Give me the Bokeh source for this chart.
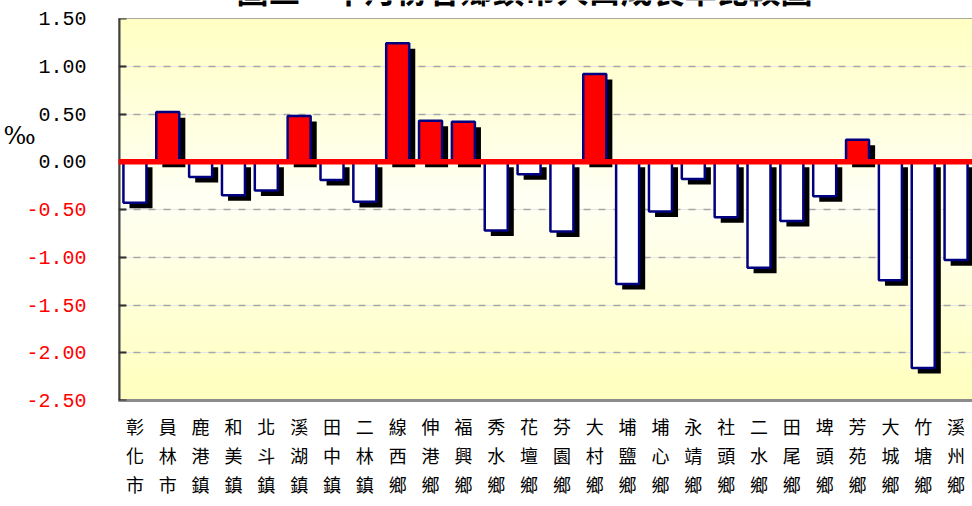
import numpy as np
from bokeh.plotting import figure
from bokeh.layouts import row, column
from bokeh.models import (FactorRange, Range1d, FixedTicker, ColumnDataSource, Span, Grid,
                          CategoricalAxis, LinearAxis, CustomJSTickFormatter)
from bokeh.core.properties import value
from bokeh.transform import dodge
from bokeh.embed import file_html
from bokeh.resources import INLINE

TITLE = "圖三　十月份各鄉鎮市人口成長率比較圖"
UNIT = "‰"

towns = ["彰化市", "員林市", "鹿港鎮", "和美鎮", "北斗鎮", "溪湖鎮", "田中鎮", "二林鎮",
         "線西鄉", "伸港鄉", "福興鄉", "秀水鄉", "花壇鄉", "芬園鄉", "大村鄉", "埔鹽鄉",
         "埔心鄉", "永靖鄉", "社頭鄉", "二水鄉", "田尾鄉", "埤頭鄉", "芳苑鄉", "大城鄉",
         "竹塘鄉", "溪州鄉"]
rates = [-0.43, 0.52, -0.16, -0.35, -0.30, 0.48, -0.19, -0.42,
         1.24, 0.43, 0.42, -0.72, -0.13, -0.73, 0.92, -1.28,
         -0.52, -0.18, -0.58, -1.11, -0.62, -0.36, 0.23, -1.24,
         -2.16, -1.03]
y_ticks = [1.5, 1.0, 0.5, 0.0, -0.5, -1.0, -1.5, -2.0, -2.5]
y_tick_labels = ["1.50", "1.00", "0.50", "0.00", "-0.50", "-1.00", "-1.50", "-2.00", "-2.50"]

Y_MIN, Y_MAX = -2.5, 1.5
SHADOW_DX = 0.185   # category units
SHADOW_DY = 0.058   # value units
UNIT_Y = 0.27       # where the unit sign sits beside the axis

# page layout (pixels)
W, H = 972, 506
LEFT, TOP, BOTTOM = 118, 18, 106
PLOT_W = W - LEFT
FRAME_H = H - TOP - BOTTOM
PX = (Y_MAX - Y_MIN) / FRAME_H   # value per pixel

# ---------------- main chart ----------------
p = figure(width=PLOT_W, height=H - TOP,
           x_range=FactorRange(factors=towns),
           y_range=Range1d(Y_MIN, Y_MAX),
           y_axis_location=None,
           output_backend="svg", toolbar_location=None,
           min_border_left=0, min_border_right=0, min_border_top=0, min_border_bottom=BOTTOM)
p.background_fill_color = "white"
p.border_fill_color = "white"
p.outline_line_color = "#8C8C8C"
p.outline_line_width = 2

# background gradient of the plot area
ys = np.linspace(Y_MIN, Y_MAX, 200)
blue = np.interp(ys, [Y_MIN, -0.4, Y_MAX], [190, 245, 196]).astype(np.uint8)
img = np.empty((len(ys), 1), dtype=np.uint32)
view = img.view(dtype=np.uint8).reshape((len(ys), 1, 4))
view[:, 0, 0] = 255
view[:, 0, 1] = 255
view[:, 0, 2] = blue
view[:, 0, 3] = 255
p.image_rgba(image=[img], x=0, y=Y_MIN, dw=len(towns), dh=Y_MAX - Y_MIN, level="image")

src = ColumnDataSource(dict(
    town=towns,
    rate=rates,
    zero=[0.0] * len(rates),
    fill=["#FF0000" if r > 0 else "#FFFFFF" for r in rates],
    sh_top=[max(r, 0) - SHADOW_DY for r in rates],
    sh_bot=[min(r, 0) - SHADOW_DY for r in rates],
))

# shadows
p.vbar(x=dodge("town", SHADOW_DX, range=p.x_range), top="sh_top", bottom="sh_bot",
       width=0.7, source=src, fill_color="black", line_color=None)
# bars
p.vbar(x="town", top="rate", bottom="zero", width=0.7, source=src,
       fill_color="fill", line_color="#000080", line_width=2.5)

p.add_layout(Span(location=0, dimension="width", line_color="#FF0000", line_width=5.5))

# grid
p.xgrid.visible = False
ygrid = Grid(dimension=1, ticker=FixedTicker(ticks=[t for t in y_ticks if Y_MIN < t < Y_MAX and t != 0]))
ygrid.grid_line_color = "#A6A6A6"
ygrid.grid_line_dash = "7 8"
ygrid.grid_line_width = 1.5
p.add_layout(ygrid)

# vertical axis line with inward ticks at the frame's left edge
y_ax = LinearAxis(fixed_location=0, ticker=FixedTicker(ticks=y_ticks))
y_ax.major_label_text_color = None
y_ax.axis_line_color = "#404040"
y_ax.axis_line_width = 4
y_ax.major_tick_in = 8
y_ax.major_tick_out = 0
y_ax.major_tick_line_color = "#303030"
y_ax.major_tick_line_width = 2
y_ax.minor_tick_line_color = None
p.add_layout(y_ax, "left")

# x axis: three stacked category axes, one character of each name per row
def style_x(ax, idx, standoff):
    ax.formatter = CustomJSTickFormatter(args=dict(pos=idx),
                                         code="return String(tick).charAt(pos);")
    ax.major_label_text_font = "Noto Sans CJK TC"
    ax.major_label_text_font_size = "18px"
    ax.major_label_text_color = "#000000"
    ax.major_label_standoff = standoff
    ax.major_tick_line_color = None
    ax.major_tick_out = 0
    ax.major_tick_in = 0
    ax.minor_tick_line_color = None

main_x = p.below[0]
style_x(main_x, 0, 12)
main_x.axis_line_color = "#8C8C8C"
main_x.axis_line_width = 3
for i in (1, 2):
    ax = CategoricalAxis()
    style_x(ax, i, 0)
    ax.axis_line_color = None
    p.add_layout(ax, "below")

# ---------------- y tick labels and unit (left strip) ----------------
lab = figure(width=LEFT, height=H,
             x_range=Range1d(0, LEFT),
             y_range=Range1d(Y_MIN - BOTTOM * PX, Y_MAX + TOP * PX),
             x_axis_location=None, y_axis_location=None,
             output_backend="svg", toolbar_location=None,
             min_border_left=0, min_border_right=0, min_border_top=0, min_border_bottom=0)
lab.outline_line_color = None
lab.background_fill_color = "white"
lab.border_fill_color = "white"
lab.grid.visible = False
ylab = ColumnDataSource(dict(
    x=[LEFT - 32] * len(y_ticks), y=y_ticks, text=y_tick_labels,
    color=["#FF0000" if t < 0 else "#000000" for t in y_ticks],
))
lab.text(x="x", y="y", text="text", source=ylab, text_color="color",
         text_align="right", text_baseline="middle",
         text_font=value("Liberation Mono"), text_font_size="20px")
lab.text(x=[19], y=[UNIT_Y], text=[UNIT], text_color="#000000",
         text_align="center", text_baseline="middle",
         text_font=value("DejaVu Serif"), text_font_size="24px")

# ---------------- title strip (cut off at the top, as in the reference) ----------------
ttl = figure(width=PLOT_W, height=TOP,
             x_range=Range1d(LEFT, W), y_range=Range1d(0, TOP),
             x_axis_location=None, y_axis_location=None,
             output_backend="svg", toolbar_location=None,
             min_border_left=0, min_border_right=0, min_border_top=0, min_border_bottom=0)
ttl.outline_line_color = None
ttl.background_fill_color = "white"
ttl.border_fill_color = "white"
ttl.grid.visible = False
ttl.text(x=[524], y=[7], text=[TITLE], text_color="#000000",
         text_align="center", text_baseline="bottom",
         text_font=value("Noto Sans CJK TC"), text_font_size="32px", text_font_style="bold")

layout = row(lab, column(ttl, p))
open("out.html", "w").write(file_html(layout, INLINE))
